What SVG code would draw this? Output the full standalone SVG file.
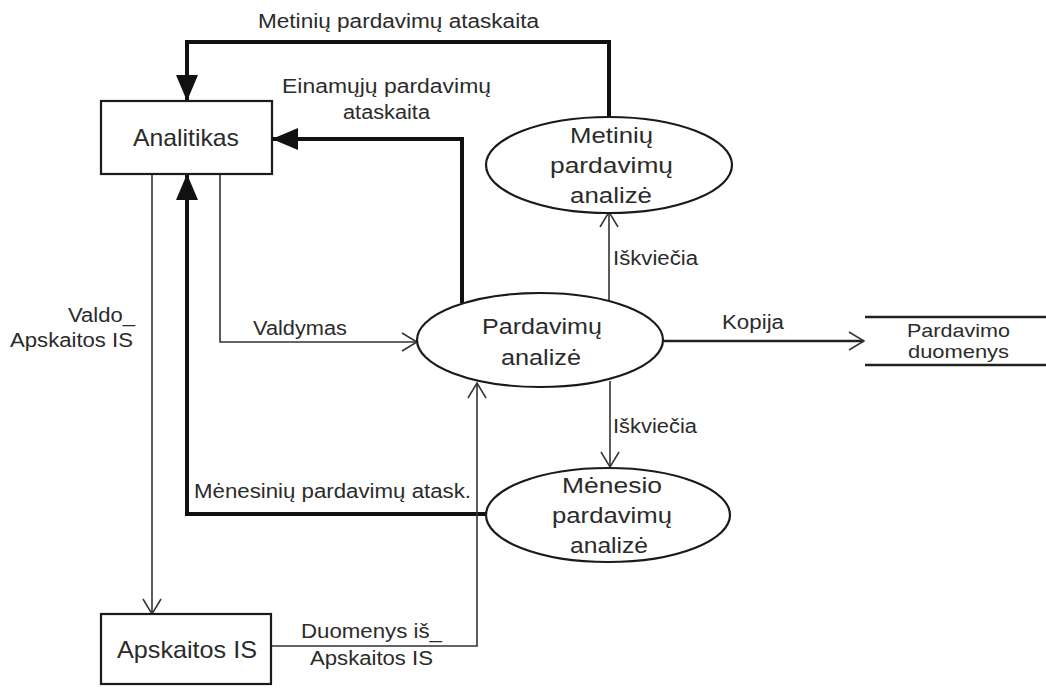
<svg xmlns="http://www.w3.org/2000/svg" width="1046" height="689" viewBox="0 0 1046 689">
<style>
text{font-family:"Liberation Sans",Arial,sans-serif;fill:#2b2b2b}
.e{font-size:20px}
.n{font-size:22px}
.b{font-size:24px}
.box{fill:#fff;stroke:#1a1a1a;stroke-width:2.2}
.thick{fill:none;stroke:#111;stroke-width:4}
.thin{fill:none;stroke:#333;stroke-width:1.6}
.med{fill:none;stroke:#222;stroke-width:2.6}
</style>
<defs>
<marker id="fa" markerUnits="userSpaceOnUse" markerWidth="30" markerHeight="24" refX="26" refY="11" orient="auto">
<path d="M0,0 L26,11 L0,22 Z" fill="#111"/>
</marker>
<marker id="oa" markerUnits="userSpaceOnUse" markerWidth="20" markerHeight="22" refX="16" refY="10" orient="auto">
<path d="M1,1 L16,10 L1,19" fill="none" stroke="#333" stroke-width="1.5"/>
</marker>
</defs>
<rect width="1046" height="689" fill="#fff"/>
<g id="connectors">
<polyline class="thick" points="609,117 609,42 187,42 187,101" marker-end="url(#fa)"/>
<polyline class="thick" points="462,303 462,139 272,139" marker-end="url(#fa)"/>
<polyline class="thick" points="487,514 187,514 187,174" marker-end="url(#fa)"/>
<line class="thin" x1="609" y1="301" x2="609" y2="212" marker-end="url(#oa)"/>
<line class="thin" x1="610" y1="381" x2="610" y2="467" marker-end="url(#oa)"/>
<polyline class="thin" points="220,174 220,342 417,342" marker-end="url(#oa)"/>
<line class="thin" x1="152" y1="174" x2="152" y2="614" marker-end="url(#oa)"/>
<polyline class="thin" points="271,646 477,646 477,383" marker-end="url(#oa)"/>
<line class="med" x1="663" y1="341" x2="864" y2="341" marker-end="url(#oa)"/>
<text class="e" x="258" y="28" textLength="281" lengthAdjust="spacingAndGlyphs">Metinių pardavimų ataskaita</text>
<text class="e" x="282" y="93" textLength="209" lengthAdjust="spacingAndGlyphs">Einamųjų pardavimų</text>
<text class="e" x="343" y="119" textLength="87" lengthAdjust="spacingAndGlyphs">ataskaita</text>
<text class="e" x="613" y="265" textLength="85" lengthAdjust="spacingAndGlyphs">Iškviečia</text>
<text class="e" x="68" y="322" textLength="67" lengthAdjust="spacingAndGlyphs">Valdo_</text>
<text class="e" x="10" y="347" textLength="123" lengthAdjust="spacingAndGlyphs">Apskaitos IS</text>
<text class="e" x="253" y="335" textLength="94" lengthAdjust="spacingAndGlyphs">Valdymas</text>
<text class="e" x="722" y="329" textLength="62" lengthAdjust="spacingAndGlyphs">Kopija</text>
<text class="e" x="613" y="433" textLength="84" lengthAdjust="spacingAndGlyphs">Iškviečia</text>
<text class="e" x="194" y="498" textLength="277" lengthAdjust="spacingAndGlyphs">Mėnesinių pardavimų atask.</text>
<text class="e" x="301" y="638" textLength="141" lengthAdjust="spacingAndGlyphs">Duomenys iš_</text>
<text class="e" x="310" y="665" textLength="123" lengthAdjust="spacingAndGlyphs">Apskaitos IS</text>
</g>
<g id="analitikas">
<rect class="box" x="101" y="101" width="171" height="73"/>
<text class="b" x="133" y="146" textLength="106" lengthAdjust="spacingAndGlyphs">Analitikas</text>
</g>
<g id="apskaitos">
<rect class="box" x="101" y="614" width="170" height="70"/>
<text class="b" x="117" y="658" textLength="140" lengthAdjust="spacingAndGlyphs">Apskaitos IS</text>
</g>
<g id="metiniu">
<ellipse class="box" cx="609" cy="165" rx="123" ry="48"/>
<text class="n" x="570" y="143" textLength="83" lengthAdjust="spacingAndGlyphs">Metinių</text>
<text class="n" x="550" y="173" textLength="123" lengthAdjust="spacingAndGlyphs">pardavimų</text>
<text class="n" x="570" y="203" textLength="82" lengthAdjust="spacingAndGlyphs">analizė</text>
</g>
<g id="pardavimu">
<ellipse class="box" cx="540" cy="340" rx="123" ry="47"/>
<text class="n" x="482" y="334" textLength="120" lengthAdjust="spacingAndGlyphs">Pardavimų</text>
<text class="n" x="501" y="365" textLength="80" lengthAdjust="spacingAndGlyphs">analizė</text>
</g>
<g id="menesio">
<ellipse class="box" cx="608" cy="515" rx="122" ry="47"/>
<text class="n" x="562" y="493" textLength="100" lengthAdjust="spacingAndGlyphs">Mėnesio</text>
<text class="n" x="552" y="523" textLength="120" lengthAdjust="spacingAndGlyphs">pardavimų</text>
<text class="n" x="570" y="553" textLength="78" lengthAdjust="spacingAndGlyphs">analizė</text>
</g>
<g id="duomenys">
<line x1="865" y1="317" x2="1046" y2="317" stroke="#222" stroke-width="2.4"/>
<line x1="865" y1="365" x2="1046" y2="365" stroke="#222" stroke-width="2.4"/>
<text x="907" y="337" font-size="19" textLength="103" lengthAdjust="spacingAndGlyphs">Pardavimo</text>
<text x="908" y="358" font-size="19" textLength="101" lengthAdjust="spacingAndGlyphs">duomenys</text>
</g>
</svg>
